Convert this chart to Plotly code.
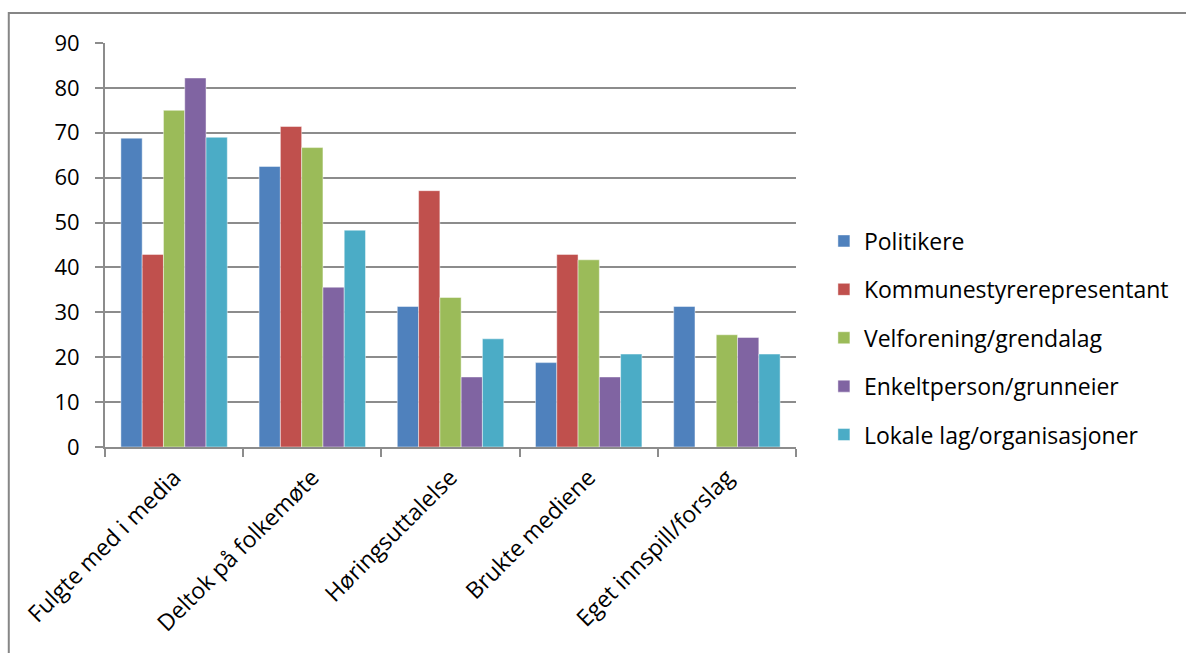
import plotly.graph_objects as go

categories = ["Fulgte med i media", "Deltok på folkemøte", "Høringsuttalelse",
              "Brukte mediene", "Eget innspill/forslag"]
series_names = ["Politikere", "Kommunestyrerepresentant", "Velforening/grendalag",
                "Enkeltperson/grunneier", "Lokale lag/organisasjoner"]
politikere = [68.8, 62.5, 31.3, 18.8, 31.3]
kommunestyre = [42.9, 71.4, 57.1, 42.9, 0]
velforening = [75.0, 66.7, 33.3, 41.7, 25.0]
enkeltperson = [82.2, 35.6, 15.6, 15.6, 24.4]
lokale_lag = [69.0, 48.3, 24.1, 20.7, 20.7]
y_ticks = [0, 10, 20, 30, 40, 50, 60, 70, 80, 90]

colors = ["#4F81BD", "#C0504D", "#9BBB59", "#8064A2", "#4BACC6"]
values = [politikere, kommunestyre, velforening, enkeltperson, lokale_lag]

FONT = "Open Sans"
GRID = "#8C8C8C"

fig = go.Figure()
for i, (name, vals) in enumerate(zip(series_names, values)):
    fig.add_trace(go.Bar(
        x=categories, y=vals, name=name, legendgroup=f"g{i}",
        marker=dict(color=colors[i], line=dict(color="rgba(255,255,255,0.45)", width=1)),
    ))

W, H = 1186, 653
L, R, T, B = 105, 798, 43, 447
pw, ph = R - L, B - T

fig.update_layout(
    width=W, height=H,
    margin=dict(l=L, r=W - R, t=T, b=H - B),
    paper_bgcolor="white", plot_bgcolor="white",
    barmode="group", bargap=0.23, bargroupgap=0,
    font=dict(family=FONT, size=22, color="black"),
    showlegend=True,
    legend=dict(x=(826 - L) / pw, xanchor="left", y=(B - 338) / ph, yanchor="middle",
                font=dict(family=FONT, size=23), tracegroupgap=15.5, traceorder="grouped",
                bgcolor="rgba(0,0,0,0)"),
    xaxis=dict(showline=True, linecolor=GRID, linewidth=2, tickangle=-45,
               ticks="outside", tickson="boundaries", ticklen=8, tickcolor=GRID, tickwidth=2,
               tickfont=dict(family=FONT, size=23), showgrid=False, ticklabelstandoff=6),
    yaxis=dict(range=[0, 90], tickvals=y_ticks, showline=True, linecolor=GRID, linewidth=2,
               ticks="outside", ticklen=8, tickcolor=GRID, tickwidth=2,
               showgrid=True, gridcolor=GRID, gridwidth=2, zeroline=False,
               tickfont=dict(family=FONT, size=22), ticklabelstandoff=11),
    shapes=[dict(type="rect", xref="paper", yref="paper",
                 x0=(8.5 - L) / pw, x1=(W + 20 - L) / pw,
                 y0=(B - (H + 20)) / ph, y1=1 + (T - 13) / ph,
                 line=dict(color="#868686", width=2), fillcolor="rgba(0,0,0,0)", layer="below")],
)

fig.write_html("out.html", config={"displayModeBar": False},
               post_script="document.body.style.margin='0';")
